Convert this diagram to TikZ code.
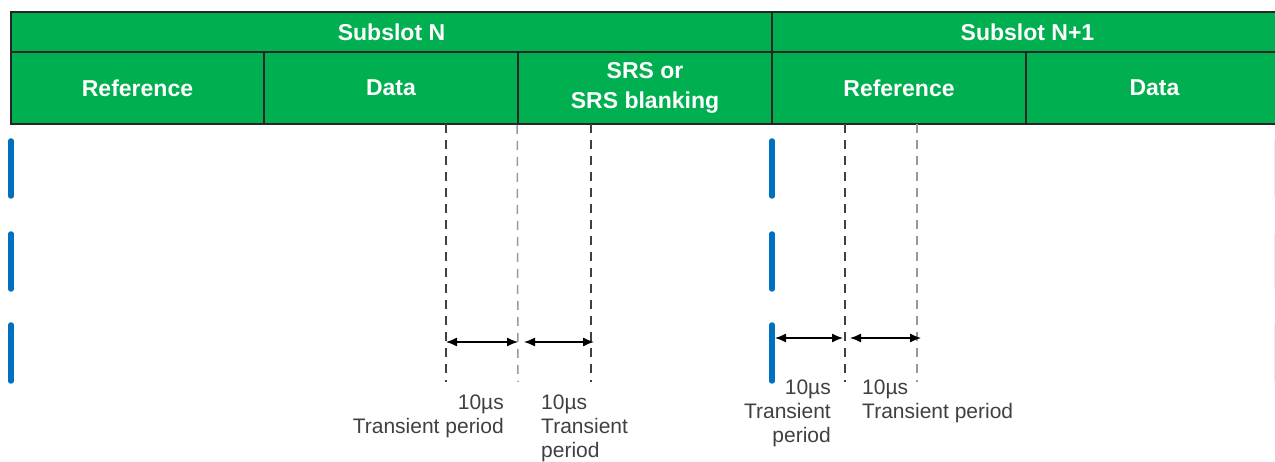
\documentclass[tikz,border=0pt]{standalone}
\usepackage{fontspec}
\setmainfont{Liberation Sans}
\usetikzlibrary{arrows.meta}
\definecolor{slotgreen}{RGB}{0,176,80}
\definecolor{barblue}{RGB}{0,112,192}

\begin{document}
\begin{tikzpicture}[x=1pt,y=-1pt,
    cell/.style={draw=black!85,line width=1.6pt,fill=slotgreen,text=white,inner sep=0pt,
      font=\bfseries\fontsize{23}{30}\selectfont,align=center},
    bar/.style={barblue,line width=5.5pt,line cap=round},
    guide/.style={black!75,line width=1.5pt,dash pattern=on 9pt off 7pt},
    guidelt/.style={guide,black!40},
    span/.style={{Latex[length=11pt,width=9pt]}-{Latex[length=11pt,width=9pt]},black,line width=1.3pt},
    note/.style={text=black!75,inner sep=0pt,font=\fontsize{21}{24}\selectfont}]
\useasboundingbox (0,0) rectangle (1275,462);
\clip (0,0) rectangle (1275,462);

% header
\node[cell,minimum width=761pt,minimum height=40pt] (subN) at (391.5,32) {Subslot N};
\node[cell,minimum width=511pt,minimum height=40pt] (subN1) at (1027.5,32) {Subslot N+1};
\node[cell,minimum width=253pt,minimum height=72pt] (refA) at (137.5,88) {Reference};
\node[cell,minimum width=254pt,minimum height=72pt] (dataA) at (391,88) {Data};
\node[cell,minimum width=254pt,minimum height=72pt] (srs) at (645,88) {SRS or\\SRS blanking};
\node[cell,minimum width=254pt,minimum height=72pt] (refB) at (899,88) {Reference};
\node[cell,minimum width=257pt,minimum height=72pt] (dataB) at (1154.5,88) {Data};

% blue bars
\foreach \x in {11,772}{
  \draw[bar] (\x,141)--(\x,196) (\x,234)--(\x,289) (\x,325)--(\x,381);
}
\draw[barblue!12,line width=1pt] (1274.5,141)--(1274.5,196) (1274.5,234)--(1274.5,289) (1274.5,325)--(1274.5,381);

% transient boundaries
\coordinate (g1) at (446,382);
\coordinate (g2) at (518,382);
\coordinate (g3) at (591,382);
\coordinate (g4) at (845,382);
\coordinate (g5) at (917,382);
\draw[guide] (446,124)--(g1);
\draw[guidelt] (srs.south west)--(g2);
\draw[guide] (591,124)--(g3);
\draw[guide] (845,124)--(g4);
\draw[guidelt] (917,124)--(g5);

\coordinate (a1) at (446,342);
\coordinate (a2) at (518,342);
\coordinate (a3) at (524,342);
\coordinate (a4) at (594,342);
\coordinate (b1) at (775,338);
\coordinate (b2) at (843,338);
\coordinate (b3) at (850,338);
\coordinate (b4) at (921,338);
\draw[span] (a1)--(a2);
\draw[span] (a3)--(a4);
\draw[span] (b1)--(b2);
\draw[span] (b3)--(b4);

\node[note,anchor=north east,align=right] (t1) at (504,395) {10µs\\Transient period};
\node[note,anchor=north west,align=left] (t2) at (541,395) {10µs\\Transient\\period};
\node[note,anchor=north east,align=right] (t3) at (831,380) {10µs\\Transient\\period};
\node[note,anchor=north west,align=left] (t4) at (862,380) {10µs\\Transient period};
\end{tikzpicture}
\end{document}
